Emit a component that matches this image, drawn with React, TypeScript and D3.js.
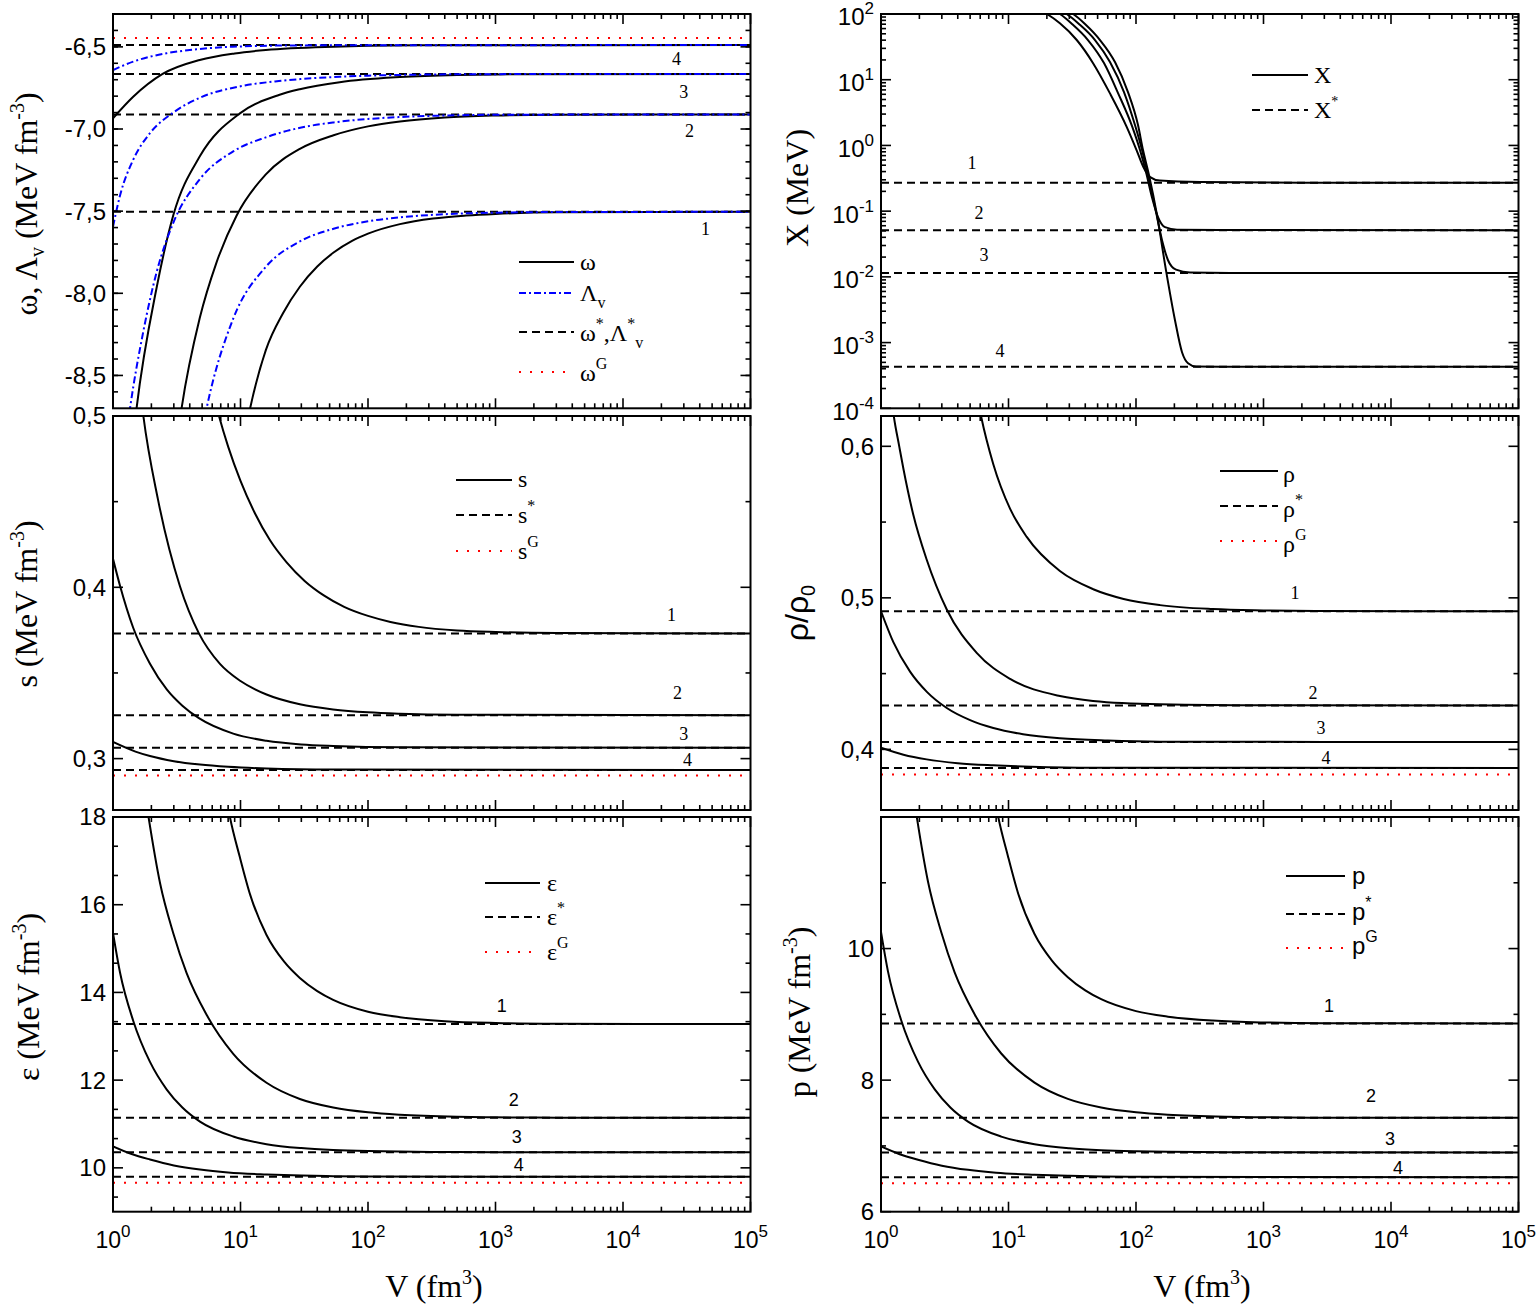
import React from "react";
import * as d3 from "d3";

type Pt = [number, number];

const SANS = "'Liberation Sans', Arial, Helvetica, sans-serif";
const SERIF = "'Liberation Serif', 'Times New Roman', Times, serif";

// ---------------- data ----------------
const vDomain: [number, number] = [1, 1e5];
const vExponents = [0, 1, 2, 3, 4, 5];

// (a) omega and Lambda_v  (MeV fm^-3)
const omegaDomain: [number, number] = [-8.7, -6.3];
const omegaMajor = [-8.5, -8.0, -7.5, -7.0, -6.5];
const omegaStar = [-7.504, -6.911, -6.665, -6.489];
const omegaG = -6.446;
const omega1: Pt[] = [[10.8, -8.86], [11.9, -8.7], [15.8, -8.346], [21.6, -8.12], [29.2, -7.96], [40, -7.837], [53.7, -7.752], [75, -7.681], [100, -7.637], [178, -7.579], [324, -7.545], [589, -7.527], [1000, -7.517], [3000, -7.507], [1e5, -7.504]];
const omega2: Pt[] = [[3.1, -8.96], [3.45, -8.7], [4.79, -8.151], [6.46, -7.816], [9.33, -7.526], [15.8, -7.276], [29.2, -7.121], [53.7, -7.038], [100, -6.984], [178, -6.954], [400, -6.93], [1000, -6.918], [3000, -6.913], [1e5, -6.911]];
const omega3: Pt[] = [[1.4, -8.965], [1.53, -8.7], [2.2, -7.965], [2.97, -7.525], [4.81, -7.165], [9.89, -6.905], [20, -6.793], [29.2, -6.758], [60, -6.715], [178, -6.684], [500, -6.671], [1000, -6.6675], [1e5, -6.665]];
const omega4: Pt[] = [[1, -6.935], [1.44, -6.804], [2.45, -6.665], [4.79, -6.58], [9, -6.54], [15.8, -6.519], [53.7, -6.499], [100, -6.494], [300, -6.4905], [1e5, -6.489]];
const lambda1: Pt[] = [[5.0, -8.834], [5.42, -8.7], [8.77, -8.154], [15.8, -7.839], [29.2, -7.684], [53.7, -7.607], [100, -7.562], [178, -7.538], [400, -7.5185], [1000, -7.5095], [3000, -7.5055], [1e5, -7.504]];
const lambda2: Pt[] = [[1.25, -8.911], [1.36, -8.7], [1.73, -8.231], [2.2, -7.871], [2.97, -7.571], [4.79, -7.306], [8.77, -7.136], [15.8, -7.051], [30, -6.991], [53.7, -6.96], [100, -6.939], [178, -6.927], [500, -6.9165], [1000, -6.9135], [1e5, -6.911]];
const lambda3: Pt[] = [[1, -7.595], [1.135, -7.405], [1.445, -7.185], [1.95, -7.025], [2.97, -6.9], [4.79, -6.81], [10, -6.74], [20, -6.708], [29.5, -6.696], [60, -6.682], [100, -6.6755], [300, -6.6685], [1000, -6.666], [1e5, -6.665]];
const lambda4: Pt[] = [[1, -6.641], [1.44, -6.59], [2.63, -6.539], [4.5, -6.515], [8.7, -6.499], [31.6, -6.491], [1e5, -6.489]];

// (b) X (MeV), log scale
const xDomainY: [number, number] = [1e-4, 1e2];
const xExponents = [-4, -3, -2, -1, 0, 1, 2];
const xStar = [0.27, 0.0514, 0.0115, 4.27e-4];
const X1: Pt[] = [[14.7, 130], [20, 100], [25.3, 72.1], [34.3, 40.2], [46.2, 17.7], [62.5, 6.19], [84.5, 1.92], [101, 0.85], [114, 0.473], [129, 0.33], [154, 0.292], [318, 0.277], [2000, 0.271], [1e5, 0.27]];
const X2: Pt[] = [[18.7, 130], [25.3, 100], [31.5, 70.5], [42, 40.2], [56.1, 17.9], [72.3, 6.27], [93.1, 1.97], [107.5, 0.85], [119.8, 0.393], [133.4, 0.163], [148.8, 0.081], [168.8, 0.057], [209.7, 0.0523], [456, 0.0516], [1e5, 0.0514]];
const X3: Pt[] = [[21.2, 130], [28.6, 100], [35.7, 70.5], [47.7, 40.2], [62.5, 18.6], [80.5, 6.49], [98.2, 2.04], [111.5, 0.85], [124.2, 0.353], [140.9, 0.115], [160, 0.0362], [178.3, 0.0179], [206, 0.01286], [265.5, 0.01167], [546, 0.0115], [1e5, 0.0115]];
const X4: Pt[] = [[23.6, 130], [32.1, 100], [39.8, 70.5], [52.2, 40.2], [68.4, 18.6], [86.5, 6.49], [103.7, 2.04], [113.5, 0.85], [126.5, 0.353], [146.2, 0.0869], [171.8, 0.01265], [202.2, 0.00219], [229.6, 7.13e-4], [255.9, 4.85e-4], [295.6, 4.32e-4], [546, 4.28e-4], [1e5, 4.27e-4]];

// (c) entropy density s (MeV fm^-3)
const sDomain: [number, number] = [0.27, 0.5];
const sMajor = [0.3, 0.4, 0.5];
const sMinor = [0.35, 0.45];
const sStar = [0.3731, 0.3253, 0.3064, 0.2933];
const sG = 0.2902;
const s1: Pt[] = [[6.2, 0.511], [6.78, 0.5], [8, 0.4821], [10, 0.4621], [13, 0.4431], [17, 0.4276], [23, 0.4146], [32, 0.4036], [45, 0.3953], [65, 0.3886], [100, 0.3833], [150, 0.3798], [250, 0.3769], [500, 0.3748], [1000, 0.3739], [3000, 0.3733], [1e5, 0.3731]];
const s2: Pt[] = [[1.65, 0.5125], [1.73, 0.5], [2.25, 0.4515], [3.35, 0.4006], [4.72, 0.3731], [6.9, 0.3553], [10, 0.3453], [16, 0.3374], [29.2, 0.3317], [53.2, 0.3287], [100, 0.327], [178, 0.3262], [500, 0.3256], [1e5, 0.3253]];
const s3: Pt[] = [[1, 0.4166], [1.135, 0.4009], [1.44, 0.3764], [1.95, 0.3554], [2.64, 0.3404], [3.5, 0.3309], [4.72, 0.3236], [8.77, 0.3146], [16, 0.3104], [30, 0.3083], [53.3, 0.3074], [178, 0.3066], [1e5, 0.3064]];
const s4: Pt[] = [[1, 0.3097], [1.5, 0.3041], [1.95, 0.3015], [3, 0.2985], [4.81, 0.2965], [8, 0.2952], [16, 0.2942], [53.3, 0.2936], [1e5, 0.2933]];

// (d) baryon density rho/rho0
const rhoDomain: [number, number] = [0.36, 0.62];
const rhoMajor = [0.4, 0.5, 0.6];
const rhoMinor = [0.45, 0.55];
const rhoStar = [0.4912, 0.429, 0.4048, 0.3877];
const rhoG = 0.3835;
const rho1: Pt[] = [[5.8, 0.629], [6.09, 0.62], [7.6, 0.5882], [10.3, 0.5587], [13.9, 0.5402], [25.3, 0.5177], [46.2, 0.5057], [80, 0.4993], [154, 0.4952], [400, 0.4926], [1000, 0.4917], [3000, 0.4913], [1e5, 0.4912]];
const rho2: Pt[] = [[1.2, 0.634], [1.26, 0.62], [1.39, 0.6], [1.5, 0.585], [1.79, 0.555], [2.28, 0.5253], [3.28, 0.4923], [5.63, 0.4637], [10.3, 0.4465], [25.3, 0.4352], [46, 0.432], [154, 0.4298], [1000, 0.4291], [1e5, 0.429]];
const rho3: Pt[] = [[1, 0.4912], [1.25, 0.4708], [1.69, 0.4513], [2.3, 0.4378], [3.28, 0.4273], [5, 0.4193], [7.6, 0.4141], [13, 0.41], [25.3, 0.4073], [60, 0.4058], [154, 0.4051], [1e5, 0.4048]];
const rho4: Pt[] = [[1, 0.4011], [1.5, 0.3965], [2.28, 0.3934], [4, 0.3909], [7.6, 0.3895], [15, 0.3886], [46, 0.3879], [1e5, 0.3877]];

// (e) energy density epsilon (MeV fm^-3)
const epsDomain: [number, number] = [9, 18];
const epsMajor = [10, 12, 14, 16, 18];
const epsStar = [13.28, 11.14, 10.355, 9.795];
const epsG = 9.658;
const eps1: Pt[] = [[7.8, 18.38], [8.26, 18.0], [9.89, 17.08], [11.9, 16.23], [16, 15.31], [22, 14.7], [29.2, 14.33], [40, 14.03], [53.3, 13.83], [100, 13.56], [178, 13.435], [400, 13.345], [1000, 13.304], [3000, 13.287], [1e5, 13.28]];
const eps2: Pt[] = [[1.8, 18.44], [1.9, 18.0], [2.34, 16.49], [2.97, 15.35], [3.78, 14.44], [5.42, 13.49], [8.77, 12.6], [16, 11.94], [29.2, 11.57], [53.3, 11.375], [100, 11.265], [178, 11.21], [500, 11.164], [1000, 11.152], [3000, 11.144], [1e5, 11.14]];
const eps3: Pt[] = [[1, 15.355], [1.135, 14.455], [1.44, 13.355], [1.95, 12.415], [2.64, 11.785], [3.5, 11.375], [4.81, 11.055], [8.77, 10.715], [16, 10.54], [30, 10.45], [53.3, 10.407], [100, 10.382], [178, 10.37], [500, 10.36], [1000, 10.3575], [1e5, 10.355]];
const eps4: Pt[] = [[1, 10.49], [1.4, 10.315], [1.95, 10.19], [3, 10.055], [4.81, 9.96], [8, 9.895], [16, 9.85], [30, 9.824], [53.3, 9.81], [100, 9.803], [1000, 9.7958], [1e5, 9.795]];

// (f) pressure p (MeV fm^-3)
const pDomain: [number, number] = [6, 12];
const pMajor = [6, 8, 10];
const pMinor = [7, 9, 11];
const pStar = [8.861, 7.427, 6.901, 6.525];
const pG = 6.434;
const p1: Pt[] = [[7.8, 12.279], [8.26, 12.024], [9.89, 11.408], [11.9, 10.838], [16, 10.221], [22, 9.813], [29.2, 9.565], [40, 9.364], [53.3, 9.23], [100, 9.049], [178, 8.965], [400, 8.905], [1000, 8.877], [3000, 8.866], [1e5, 8.861]];
const p2: Pt[] = [[1.8, 12.319], [1.9, 12.024], [2.34, 11.012], [2.97, 10.248], [3.78, 9.638], [5.42, 9.002], [8.77, 8.405], [16, 7.963], [29.2, 7.715], [53.3, 7.584], [100, 7.511], [178, 7.474], [500, 7.443], [1000, 7.435], [3000, 7.429], [1e5, 7.427]];
const p3: Pt[] = [[1, 10.252], [1.135, 9.649], [1.44, 8.911], [1.95, 8.281], [2.64, 7.859], [3.5, 7.584], [4.81, 7.37], [8.77, 7.142], [16, 7.025], [30, 6.964], [53.3, 6.935], [100, 6.919], [178, 6.911], [500, 6.904], [1000, 6.902], [1e5, 6.9005]];
const p4: Pt[] = [[1, 6.991], [1.4, 6.874], [1.95, 6.79], [3, 6.7], [4.81, 6.636], [8, 6.592], [16, 6.562], [30, 6.545], [53.3, 6.535], [100, 6.531], [1000, 6.5257], [1e5, 6.525]];

// ---------------- layout ----------------
const COL_X: [number, number][] = [[113, 750.5], [881, 1518.5]];
const ROW_Y: [number, number][] = [[14, 408.3], [416, 810], [817, 1211.7]];

type Kind = "solid" | "dash" | "dot" | "dashdot";
interface Curve { data: Pt[]; kind: Kind }
interface NumLabel { v: number; val: number; text: string }
interface PanelSpec {
  id: string;
  xr: [number, number];
  yr: [number, number];
  yLog?: boolean;
  yDomain: [number, number];
  yMajor: number[];
  yMinor: number[];
  yLabel: (v: number) => React.ReactNode;
  yLabelOffset?: number;
  xLabels: boolean;
  curves: Curve[];
  nums: NumLabel[];
  numFont: string;
}

const STYLE: Record<Kind, { stroke: string; dash?: string; w: number }> = {
  solid: { stroke: "#000", w: 2 },
  dash: { stroke: "#000", dash: "8 5", w: 2 },
  dot: { stroke: "#ff0000", dash: "2 9", w: 2 },
  dashdot: { stroke: "#0000ff", dash: "7 3 2 3", w: 2 },
};

const hline = (v: number): Pt[] => [[vDomain[0], v], [vDomain[1], v]];
const fmtComma = (v: number) => (v < 0 ? "-" : "") + Math.abs(v).toFixed(1).replace(".", ",");
const fmtInt = (v: number) => String(v);
const sup10 = (e: number) => (
  <>
    10<tspan dy={-11} fontSize={17}>{e < 0 ? "-" + Math.abs(e) : String(e)}</tspan>
  </>
);

function Panel({ s }: { s: PanelSpec }) {
  const [x0, x1] = s.xr;
  const [y0, y1] = s.yr;
  const x = d3.scaleLog().domain(vDomain).range([x0, x1]);
  const y: (v: number) => number = s.yLog
    ? d3.scaleLog().domain(s.yDomain).range([y1, y0])
    : d3.scaleLinear().domain(s.yDomain).range([y1, y0]);
  const line = d3
    .line<Pt>()
    .x((d) => x(d[0]))
    .y((d) => y(d[1]))
    .curve(d3.curveMonotoneX);
  const order: Kind[] = ["dot", "dash", "solid", "dashdot"];
  const sorted = [...s.curves].sort((a, b) => order.indexOf(a.kind) - order.indexOf(b.kind));
  const xMinor: number[] = [];
  for (let e = 0; e < 5; e++) for (let m = 2; m <= 9; m++) xMinor.push(m * 10 ** e);
  const lo = Math.min(...s.yDomain), hi = Math.max(...s.yDomain);
  const inY = (v: number) => v >= lo - 1e-9 && v <= hi + 1e-9;
  const MAJ = 10, MIN = 5;
  return (
    <g>
      <defs>
        <clipPath id={`clip-${s.id}`}>
          <rect x={x0} y={y0} width={x1 - x0} height={y1 - y0} />
        </clipPath>
      </defs>
      <g clipPath={`url(#clip-${s.id})`}>
        {sorted.map((c, i) => {
          const st = STYLE[c.kind];
          return (
            <path key={i} d={line(c.data) || ""} fill="none" stroke={st.stroke} strokeWidth={st.w}
              strokeDasharray={st.dash} strokeLinejoin="round" />
          );
        })}
      </g>
      <g stroke="#000" strokeWidth={1.6}>
        {vExponents.map((e) => {
          const px = x(10 ** e);
          return (
            <g key={"xm" + e}>
              <line x1={px} x2={px} y1={y1} y2={y1 - MAJ} />
              <line x1={px} x2={px} y1={y0} y2={y0 + MAJ} />
            </g>
          );
        })}
        {xMinor.map((v) => {
          const px = x(v);
          return (
            <g key={"xn" + v}>
              <line x1={px} x2={px} y1={y1} y2={y1 - MIN} />
              <line x1={px} x2={px} y1={y0} y2={y0 + MIN} />
            </g>
          );
        })}
        {s.yMajor.filter(inY).map((v) => {
          const py = y(v);
          return (
            <g key={"ym" + v}>
              <line x1={x0} x2={x0 + MAJ} y1={py} y2={py} />
              <line x1={x1} x2={x1 - MAJ} y1={py} y2={py} />
            </g>
          );
        })}
        {s.yMinor.filter(inY).map((v) => {
          const py = y(v);
          return (
            <g key={"yn" + v}>
              <line x1={x0} x2={x0 + MIN} y1={py} y2={py} />
              <line x1={x1} x2={x1 - MIN} y1={py} y2={py} />
            </g>
          );
        })}
      </g>
      <rect x={x0} y={y0} width={x1 - x0} height={y1 - y0} fill="none" stroke="#000" strokeWidth={2} />
      {s.yMajor.filter(inY).map((v) => (
        <text key={"yl" + v} x={x0 - 7} y={y(v) + (s.yLabelOffset || 0)} dy="0.35em" textAnchor="end"
          fontFamily={SANS} fontSize={24} fill="#000">
          {s.yLabel(v)}
        </text>
      ))}
      {s.xLabels &&
        vExponents.map((e) => (
          <text key={"xl" + e} x={x(10 ** e)} y={1248} textAnchor="middle" fontFamily={SANS} fontSize={23} fill="#000">
            {sup10(e)}
          </text>
        ))}
      {s.nums.map((n, i) => (
        <text key={"n" + i} x={x(n.v)} y={y(n.val)} dy="0.35em" textAnchor="middle" fontFamily={s.numFont}
          fontSize={18} fill="#000">
          {n.text}
        </text>
      ))}
    </g>
  );
}

const omegaMinor = d3.range(-86, -63).map((k) => k / 10);
const xMinorY: number[] = [];
for (let e = -4; e < 2; e++) for (let m = 2; m <= 9; m++) xMinorY.push(m * 10 ** e);
const epsMinor = epsMajor.flatMap((m) => [m - 4 / 3, m - 2 / 3]);

const panels: PanelSpec[] = [
  {
    id: "omega", xr: COL_X[0], yr: ROW_Y[0], yDomain: omegaDomain, yMajor: omegaMajor, yMinor: omegaMinor,
    yLabel: fmtComma, xLabels: false, numFont: SERIF,
    curves: [
      ...omegaStar.map((v) => ({ data: hline(v), kind: "dash" as Kind })),
      { data: hline(omegaG), kind: "dot" },
      { data: omega1, kind: "solid" }, { data: omega2, kind: "solid" }, { data: omega3, kind: "solid" }, { data: omega4, kind: "solid" },
      { data: lambda1, kind: "dashdot" }, { data: lambda2, kind: "dashdot" }, { data: lambda3, kind: "dashdot" }, { data: lambda4, kind: "dashdot" },
    ],
    nums: [
      { v: 44400, val: -7.609, text: "1" }, { v: 33300, val: -7.013, text: "2" },
      { v: 29900, val: -6.775, text: "3" }, { v: 26300, val: -6.574, text: "4" },
    ],
  },
  {
    id: "X", xr: COL_X[1], yr: ROW_Y[0], yLog: true, yDomain: xDomainY, yMajor: xExponents.map((e) => 10 ** e),
    yMinor: xMinorY, yLabel: (v) => sup10(Math.round(Math.log10(v))), yLabelOffset: 3, xLabels: false, numFont: SERIF,
    curves: [
      ...xStar.map((v) => ({ data: hline(v), kind: "dash" as Kind })),
      { data: X1, kind: "solid" }, { data: X2, kind: "solid" }, { data: X3, kind: "solid" }, { data: X4, kind: "solid" },
    ],
    nums: [
      { v: 5.17, val: 0.538, text: "1" }, { v: 5.87, val: 0.0933, text: "2" },
      { v: 6.42, val: 0.0214, text: "3" }, { v: 8.58, val: 7.64e-4, text: "4" },
    ],
  },
  {
    id: "s", xr: COL_X[0], yr: ROW_Y[1], yDomain: sDomain, yMajor: sMajor, yMinor: sMinor,
    yLabel: fmtComma, xLabels: false, numFont: SERIF,
    curves: [
      ...sStar.map((v) => ({ data: hline(v), kind: "dash" as Kind })),
      { data: hline(sG), kind: "dot" },
      { data: s1, kind: "solid" }, { data: s2, kind: "solid" }, { data: s3, kind: "solid" }, { data: s4, kind: "solid" },
    ],
    nums: [
      { v: 24000, val: 0.3838, text: "1" }, { v: 26800, val: 0.3382, text: "2" },
      { v: 29900, val: 0.3148, text: "3" }, { v: 32100, val: 0.2996, text: "4" },
    ],
  },
  {
    id: "rho", xr: COL_X[1], yr: ROW_Y[1], yDomain: rhoDomain, yMajor: rhoMajor, yMinor: rhoMinor,
    yLabel: fmtComma, xLabels: false, numFont: SERIF,
    curves: [
      ...rhoStar.map((v) => ({ data: hline(v), kind: "dash" as Kind })),
      { data: hline(rhoG), kind: "dot" },
      { data: rho1, kind: "solid" }, { data: rho2, kind: "solid" }, { data: rho3, kind: "solid" }, { data: rho4, kind: "solid" },
    ],
    nums: [
      { v: 1770, val: 0.5035, text: "1" }, { v: 2440, val: 0.4376, text: "2" },
      { v: 2820, val: 0.4145, text: "3" }, { v: 3090, val: 0.3947, text: "4" },
    ],
  },
  {
    id: "eps", xr: COL_X[0], yr: ROW_Y[2], yDomain: epsDomain, yMajor: epsMajor, yMinor: epsMinor,
    yLabel: fmtInt, xLabels: true, numFont: SANS,
    curves: [
      ...epsStar.map((v) => ({ data: hline(v), kind: "dash" as Kind })),
      { data: hline(epsG), kind: "dot" },
      { data: eps1, kind: "solid" }, { data: eps2, kind: "solid" }, { data: eps3, kind: "solid" }, { data: eps4, kind: "solid" },
    ],
    nums: [
      { v: 1120, val: 13.7, text: "1" }, { v: 1390, val: 11.56, text: "2" },
      { v: 1470, val: 10.71, text: "3" }, { v: 1520, val: 10.075, text: "4" },
    ],
  },
  {
    id: "p", xr: COL_X[1], yr: ROW_Y[2], yDomain: pDomain, yMajor: pMajor, yMinor: pMinor,
    yLabel: fmtInt, xLabels: true, numFont: SANS,
    curves: [
      ...pStar.map((v) => ({ data: hline(v), kind: "dash" as Kind })),
      { data: hline(pG), kind: "dot" },
      { data: p1, kind: "solid" }, { data: p2, kind: "solid" }, { data: p3, kind: "solid" }, { data: p4, kind: "solid" },
    ],
    nums: [
      { v: 3260, val: 9.125, text: "1" }, { v: 6970, val: 7.765, text: "2" },
      { v: 9820, val: 7.11, text: "3" }, { v: 11350, val: 6.667, text: "4" },
    ],
  },
];

function LegendLine({ x1, x2, y, kind }: { x1: number; x2: number; y: number; kind: Kind }) {
  const st = STYLE[kind];
  return <line x1={x1} x2={x2} y1={y} y2={y} stroke={st.stroke} strokeWidth={st.w} strokeDasharray={st.dash} />;
}

const LT = { fontFamily: SERIF, fontSize: 24, fill: "#000" };

function Legends() {
  return (
    <g>
      {/* omega panel */}
      <LegendLine x1={519} x2={574} y={262} kind="solid" />
      <text x={580} y={270} {...LT}>ω</text>
      <LegendLine x1={519} x2={574} y={293} kind="dashdot" />
      <text x={580} y={301} {...LT}>Λ<tspan dy={7} fontSize={16}>v</tspan></text>
      <LegendLine x1={519} x2={574} y={332} kind="dash" />
      <text x={580} y={341} {...LT}>
        ω<tspan dy={-12} fontSize={16}>*</tspan><tspan dy={12}>,Λ</tspan><tspan dy={-12} fontSize={16}>*</tspan>
        <tspan dy={19} fontSize={16}>v</tspan>
      </text>
      <LegendLine x1={519} x2={574} y={372} kind="dot" />
      <text x={580} y={381} {...LT}>ω<tspan dy={-12} fontSize={16}>G</tspan></text>

      {/* X panel */}
      <LegendLine x1={1252} x2={1308} y={75} kind="solid" />
      <text x={1314} y={83} {...LT}>X</text>
      <LegendLine x1={1252} x2={1308} y={110} kind="dash" />
      <text x={1314} y={118} {...LT}>X<tspan dy={-12} fontSize={14}>*</tspan></text>

      {/* s panel */}
      <LegendLine x1={456} x2={512} y={480} kind="solid" />
      <text x={518} y={487} {...LT}>s</text>
      <LegendLine x1={456} x2={512} y={515} kind="dash" />
      <text x={518} y={523} {...LT}>s<tspan dy={-12} fontSize={16}>*</tspan></text>
      <LegendLine x1={456} x2={512} y={551} kind="dot" />
      <text x={518} y={559} {...LT}>s<tspan dy={-12} fontSize={16}>G</tspan></text>

      {/* rho panel */}
      <LegendLine x1={1220} x2={1278} y={471} kind="solid" />
      <text x={1283} y={482} {...LT}>ρ</text>
      <LegendLine x1={1220} x2={1278} y={506} kind="dash" />
      <text x={1283} y={517} {...LT}>ρ<tspan dy={-12} fontSize={16}>*</tspan></text>
      <LegendLine x1={1220} x2={1278} y={541} kind="dot" />
      <text x={1283} y={552} {...LT}>ρ<tspan dy={-12} fontSize={16}>G</tspan></text>

      {/* eps panel */}
      <LegendLine x1={485} x2={540} y={883} kind="solid" />
      <text x={547} y={891} {...LT}>ε</text>
      <LegendLine x1={485} x2={540} y={917} kind="dash" />
      <text x={547} y={925} {...LT}>ε<tspan dy={-12} fontSize={16}>*</tspan></text>
      <LegendLine x1={485} x2={540} y={952} kind="dot" />
      <text x={547} y={960} {...LT}>ε<tspan dy={-12} fontSize={16}>G</tspan></text>

      {/* p panel */}
      <LegendLine x1={1286} x2={1345} y={876} kind="solid" />
      <text x={1352} y={884} {...LT} fontFamily={SANS}>p</text>
      <LegendLine x1={1286} x2={1345} y={914} kind="dash" />
      <text x={1352} y={920} {...LT} fontFamily={SANS}>p<tspan dy={-12} fontSize={16}>*</tspan></text>
      <LegendLine x1={1286} x2={1345} y={948} kind="dot" />
      <text x={1352} y={954} {...LT} fontFamily={SANS}>p<tspan dy={-12} fontSize={16}>G</tspan></text>
    </g>
  );
}

const TT = { fontFamily: SERIF, fontSize: 32, fill: "#000", textAnchor: "middle" as const };

function Titles() {
  return (
    <g>
      <text transform="translate(37,204) rotate(-90)" {...TT}>
        ω, Λ<tspan dy={7} fontSize={20}>v</tspan><tspan dy={-7}>{" (MeV fm"}</tspan>
        <tspan dy={-13} fontSize={20}>-3</tspan><tspan dy={13}>)</tspan>
      </text>
      <text transform="translate(37,604) rotate(-90)" {...TT}>
        {"s (MeV fm"}<tspan dy={-13} fontSize={20}>-3</tspan><tspan dy={13}>)</tspan>
      </text>
      <text transform="translate(39,997) rotate(-90)" {...TT}>
        {"ε (MeV fm"}<tspan dy={-13} fontSize={20}>-3</tspan><tspan dy={13}>)</tspan>
      </text>
      <text transform="translate(808,188) rotate(-90)" {...TT}>X (MeV)</text>
      <text transform="translate(808,613) rotate(-90)" {...TT} fontFamily={SANS}>
        ρ/ρ<tspan dy={7} fontSize={20}>0</tspan>
      </text>
      <text transform="translate(810,1012) rotate(-90)" {...TT}>
        {"p (MeV fm"}<tspan dy={-13} fontSize={20}>-3</tspan><tspan dy={13}>)</tspan>
      </text>
      <text x={434} y={1297} {...TT}>
        {"V (fm"}<tspan dy={-13} fontSize={20}>3</tspan><tspan dy={13}>)</tspan>
      </text>
      <text x={1202} y={1297} {...TT}>
        {"V (fm"}<tspan dy={-13} fontSize={20}>3</tspan><tspan dy={13}>)</tspan>
      </text>
    </g>
  );
}

export default function App() {
  return (
    <svg width={1537} height={1309} viewBox="0 0 1537 1309"
      style={{ position: "absolute", left: 0, top: 0, background: "#fff" }}>
      <rect x={0} y={0} width={1537} height={1309} fill="#fff" />
      {panels.map((p) => (
        <Panel key={p.id} s={p} />
      ))}
      <Legends />
      <Titles />
    </svg>
  );
}
